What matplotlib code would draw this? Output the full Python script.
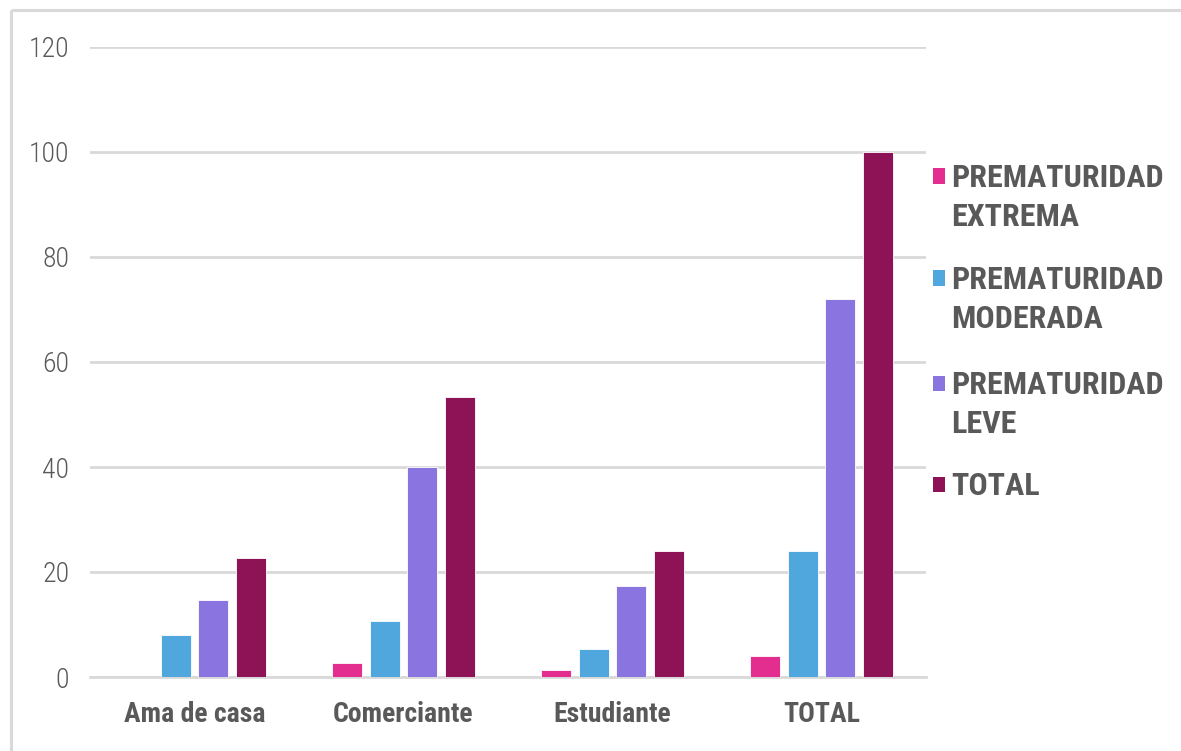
import matplotlib
matplotlib.use("Agg")
import os
import matplotlib.pyplot as plt
from matplotlib import font_manager
from matplotlib.font_manager import FontProperties
from matplotlib.lines import Line2D
from matplotlib.patches import Rectangle
import numpy as np

# Data: percentage of preterm births by maternal occupation
categories = ["Ama de casa", "Comerciante", "Estudiante", "TOTAL"]
series_names = ["PREMATURIDAD\nEXTREMA", "PREMATURIDAD\nMODERADA",
                "PREMATURIDAD\nLEVE", "TOTAL"]
extrema = [0.0, 2.67, 1.33, 4.0]
moderada = [8.0, 10.67, 5.33, 24.0]
leve = [14.67, 40.0, 17.33, 72.0]
total = [22.67, 53.33, 24.0, 100.0]
y_ticks = [0, 20, 40, 60, 80, 100, 120]

series_values = [extrema, moderada, leve, total]
colors = ["#E32E8F", "#50A7DD", "#8A74E0", "#8E1256"]


def find_font(patterns):
    files = [f.fname for f in font_manager.fontManager.ttflist]
    for pat in patterns:
        for fn in files:
            if os.path.basename(fn).lower().replace("-", "").replace("_", "") == pat:
                return fn
    return None


# Prefer a narrow sans face; fall back to Liberation Sans at reduced size
reg_file = find_font(["robotocondensedlight.ttf", "liberationsansnarrowregular.ttf",
                      "robotocondensedregular.ttf", "opensanscondlight.ttf"])
bold_file = find_font(["robotocondensedbold.ttf", "liberationsansnarrowbold.ttf",
                       "opensanscondbold.ttf"])
if reg_file and bold_file:
    fp_reg = lambda s: FontProperties(fname=reg_file, size=s)
    fp_bold = lambda s: FontProperties(fname=bold_file, size=s)
    scale = 1.0
else:
    fp_reg = lambda s: FontProperties(family="Liberation Sans", size=s)
    fp_bold = lambda s: FontProperties(family="Liberation Sans", weight="bold", size=s)
    scale = 0.86

text_color = "#595959"
grid_color = "#D9D9D9"

W, H = 1181, 751
fig = plt.figure(figsize=(W / 100, H / 100), dpi=100)
ax = fig.add_axes([90 / W, (H - 677) / H, 836 / W, 630 / H])

x = np.arange(len(categories))
pitch = 0.18
width = 0.145
for i, (vals, col) in enumerate(zip(series_values, colors)):
    offs = (i - 1.5) * pitch
    ax.bar(x + offs, vals, width=width, color=col, edgecolor="#FFFFFF",
           linewidth=0.6, zorder=3)

ax.set_xlim(-0.5, len(categories) - 0.5)
ax.set_ylim(0, 120)
ax.set_yticks(y_ticks)
ax.set_yticklabels([str(t) for t in y_ticks], color=text_color)
for lab in ax.get_yticklabels():
    lab.set_fontproperties(fp_reg(20 * scale))
ax.set_xticks(x)
ax.set_xticklabels(categories, color=text_color)
for lab in ax.get_xticklabels():
    lab.set_fontproperties(fp_bold(20 * scale))
ax.tick_params(axis="y", length=0, pad=15)
ax.tick_params(axis="x", length=0, pad=17)
ax.yaxis.grid(True, color=grid_color, linewidth=2.0, zorder=0)
ax.set_axisbelow(True)
for s in ["top", "right", "left"]:
    ax.spines[s].set_visible(False)
ax.spines["bottom"].set_color(grid_color)
ax.spines["bottom"].set_linewidth(2.0)

# Legend at the right: square marker aligned with the first text line
leg_size = 23 * scale
cap_px = 0.711 * leg_size * 100 / 72
first_line = [176, 278, 383, 484]
line_gap = 39
for name, col, yc in zip(series_names, colors, first_line):
    fig.patches.append(Rectangle((933 / W, (H - yc - 7.5) / H), 12 / W, 15 / H,
                                 transform=fig.transFigure, facecolor=col,
                                 edgecolor="none"))
    for k, line in enumerate(name.split("\n")):
        yl = yc + k * line_gap
        fig.text(951 / W, (H - yl - cap_px / 2) / H, line,
                 fontproperties=fp_bold(leg_size), color=text_color,
                 va="baseline", ha="left")

# Chart area frame (top and left edges visible)
fig.add_artist(Line2D([11 / W, 1.0], [(H - 10) / H, (H - 10) / H],
                      transform=fig.transFigure, color=grid_color,
                      linewidth=2.2, solid_capstyle="butt"))
fig.add_artist(Line2D([11 / W, 11 / W], [0.0, (H - 10) / H],
                      transform=fig.transFigure, color=grid_color,
                      linewidth=2.2, solid_capstyle="butt"))

fig.savefig("out.png", dpi=100, facecolor="white")
